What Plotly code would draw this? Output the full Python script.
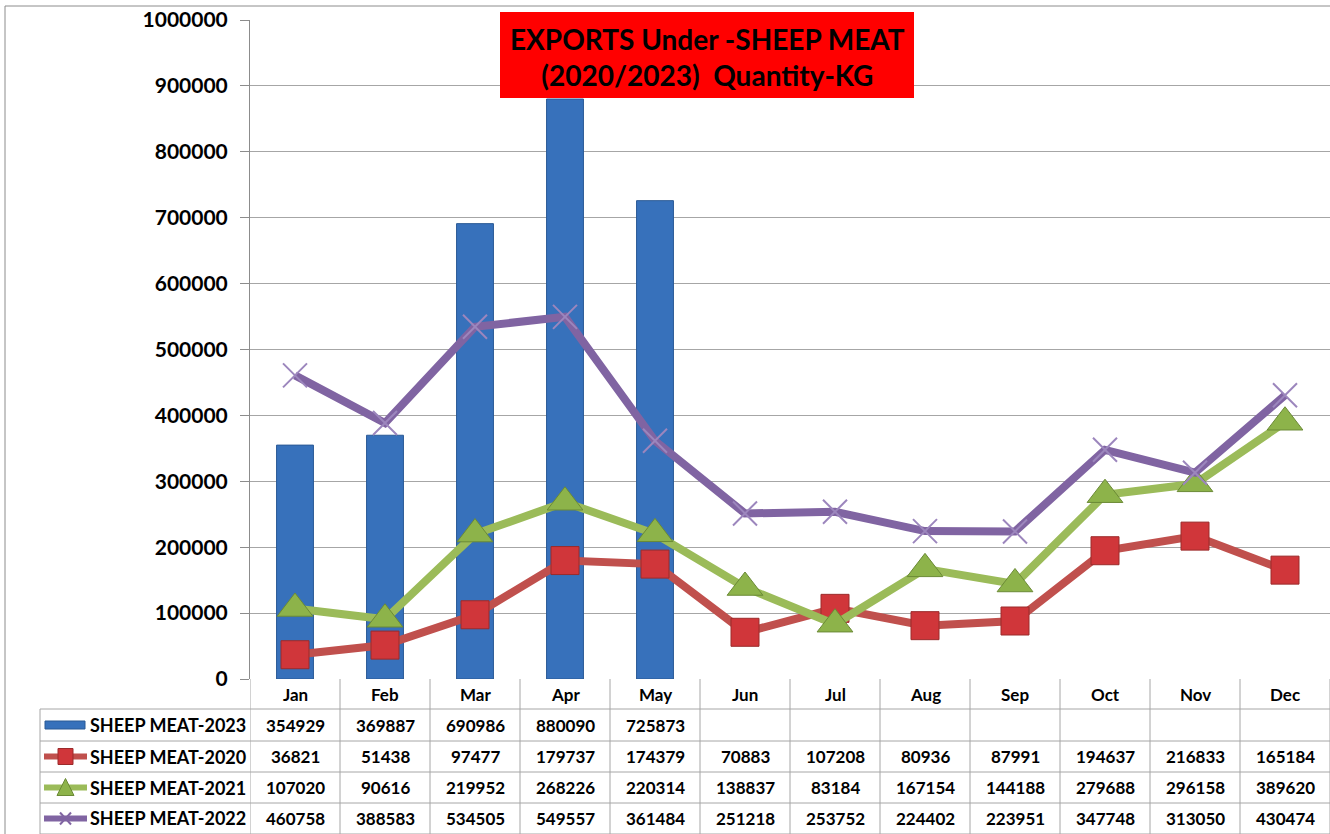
import plotly.graph_objects as go

months = ["Jan", "Feb", "Mar", "Apr", "May", "Jun", "Jul", "Aug", "Sep", "Oct", "Nov", "Dec"]
meat_2023 = [354929, 369887, 690986, 880090, 725873, None, None, None, None, None, None, None]
meat_2020 = [36821, 51438, 97477, 179737, 174379, 70883, 107208, 80936, 87991, 194637, 216833, 165184]
meat_2021 = [107020, 90616, 219952, 268226, 220314, 138837, 83184, 167154, 144188, 279688, 296158, 389620]
meat_2022 = [460758, 388583, 534505, 549557, 361484, 251218, 253752, 224402, 223951, 347748, 313050, 430474]
y_ticks = [0, 100000, 200000, 300000, 400000, 500000, 600000, 700000, 800000, 900000, 1000000]

W, H = 1330, 834
L, R, T, B = 250, 1330, 20, 679
FONT = "Lato"


def px_x(x):
    return (x - L) / (R - L)


def px_y(y):
    return (B - y) / (B - T)


BLUE, RED, GREEN, PURPLE = "#3771bb", "#c0504d", "#9bbb59", "#8064a2"
GRID = "#a6a6a6"

fig = go.Figure()
fig.add_trace(go.Bar(x=months, y=meat_2023, name="SHEEP MEAT-2023", width=0.41,
                     marker=dict(color=BLUE, line=dict(color="#2a5a95", width=1))))
fig.add_trace(go.Scatter(x=months, y=meat_2020, name="SHEEP MEAT-2020", mode="lines+markers",
                         line=dict(color=RED, width=8),
                         marker=dict(symbol="square", size=28, color="#d0363a",
                                     line=dict(color="#9b2b2b", width=1))))
fig.add_trace(go.Scatter(x=months, y=meat_2021, name="SHEEP MEAT-2021", mode="lines+markers",
                         line=dict(color=GREEN, width=8),
                         marker=dict(symbol="triangle-up", size=31, color="#8db34a",
                                     line=dict(color="#6b8a36", width=1))))
fig.add_trace(go.Scatter(x=months, y=meat_2022, name="SHEEP MEAT-2022", mode="lines+markers",
                         line=dict(color=PURPLE, width=8),
                         marker=dict(symbol="x-thin", size=24, color=PURPLE,
                                     line=dict(color="#9c86bd", width=2))))

shapes = []
annotations = []

# outer chart border
shapes.append(dict(type="rect", xref="paper", yref="paper", x0=px_x(5), x1=px_x(1340),
                   y0=px_y(845), y1=px_y(6), line=dict(color="#8c8c8c", width=1)))

# data table grid
row_edges = [679, 709, 741, 772, 803, 834]
for i in range(13):
    shapes.append(dict(type="line", xref="x", yref="paper", x0=i - 0.5, x1=i - 0.5,
                       y0=px_y(679), y1=px_y(840), line=dict(color=GRID, width=1)))
for yy in row_edges[1:]:
    shapes.append(dict(type="line", xref="paper", yref="paper", x0=px_x(40), x1=px_x(1330),
                       y0=px_y(yy), y1=px_y(yy), line=dict(color=GRID, width=1)))
shapes.append(dict(type="line", xref="paper", yref="paper", x0=px_x(40), x1=px_x(40),
                   y0=px_y(709), y1=px_y(840), line=dict(color=GRID, width=1)))

# month header row
for m in months:
    annotations.append(dict(x=m, y=px_y(694), xref="x", yref="paper", text="<b>%s</b>" % m,
                            showarrow=False, yanchor="middle",
                            font=dict(family=FONT, size=17, color="black")))

series = [("SHEEP MEAT-2023", meat_2023), ("SHEEP MEAT-2020", meat_2020),
          ("SHEEP MEAT-2021", meat_2021), ("SHEEP MEAT-2022", meat_2022)]


def key_y(r):
    return (row_edges[r + 1] + row_edges[r + 2]) / 2


for r, (name, vals) in enumerate(series):
    yc = key_y(r)
    annotations.append(dict(x=px_x(88), y=px_y(yc), xref="paper", yref="paper",
                            text="<b>%s</b>" % name, xanchor="left", yanchor="middle",
                            showarrow=False, font=dict(family=FONT, size=18, color="black")))
    for m, v in zip(months, vals):
        if v is None:
            continue
        annotations.append(dict(x=m, y=px_y(yc), xref="x", yref="paper", text="<b>%d</b>" % v,
                                showarrow=False, yanchor="middle",
                                font=dict(family=FONT, size=17, color="black")))

# legend keys in the table
yk = key_y(0)
shapes.append(dict(type="rect", xref="paper", yref="paper", x0=px_x(45), x1=px_x(85),
                   y0=px_y(yk + 4), y1=px_y(yk - 4), fillcolor=BLUE,
                   line=dict(color="#2a5a95", width=1)))
for r, col in [(1, RED), (2, GREEN), (3, PURPLE)]:
    yk = key_y(r)
    shapes.append(dict(type="line", xref="paper", yref="paper", x0=px_x(44), x1=px_x(87),
                       y0=px_y(yk), y1=px_y(yk), line=dict(color=col, width=6)))
yk = key_y(1)
shapes.append(dict(type="rect", xref="paper", yref="paper", x0=px_x(58), x1=px_x(73),
                   y0=px_y(yk + 8), y1=px_y(yk - 8), fillcolor="#d0363a",
                   line=dict(color="#9b2b2b", width=1)))
yk = key_y(2)
shapes.append(dict(type="path", xref="paper", yref="paper",
                   path="M %f,%f L %f,%f L %f,%f Z" % (px_x(57), px_y(yk + 8), px_x(74), px_y(yk + 8),
                                                       px_x(65.5), px_y(yk - 9)),
                   fillcolor="#8db34a", line=dict(color="#6b8a36", width=1)))
yk = key_y(3)
for d in (1, -1):
    shapes.append(dict(type="line", xref="paper", yref="paper", x0=px_x(60), x1=px_x(71),
                       y0=px_y(yk - 6 * d), y1=px_y(yk + 6 * d), line=dict(color=PURPLE, width=2)))

# title box
shapes.append(dict(type="rect", xref="paper", yref="paper", x0=px_x(500), x1=px_x(914),
                   y0=px_y(98), y1=px_y(12), fillcolor="#ff0000", line=dict(width=0), layer="above"))
annotations.append(dict(x=px_x(707), y=px_y(57), xref="paper", yref="paper", showarrow=False,
                        xanchor="center", yanchor="middle",
                        text="<b>EXPORTS Under -SHEEP MEAT<br>(2020/2023)  Quantity-KG</b>",
                        font=dict(family=FONT, size=28, color="black")))

fig.update_layout(
    width=W, height=H,
    margin=dict(l=L, r=W - R, t=T, b=H - B),
    paper_bgcolor="white", plot_bgcolor="white",
    showlegend=False,
    shapes=shapes, annotations=annotations,
    xaxis=dict(type="category", range=[-0.5, 11.5], showticklabels=False, showgrid=False,
               zeroline=False, showline=False, ticks=""),
    yaxis=dict(range=[0, 1000000], tickvals=y_ticks, tickformat="d", showgrid=True,
               gridcolor=GRID, gridwidth=1, zeroline=False, showline=True, linecolor="#8c8c8c",
               ticks="outside", ticklen=9, tickcolor="#8c8c8c", ticklabelstandoff=8,
               tickfont=dict(family=FONT, size=21, color="black", weight="bold")),
)

fig.write_html("out.html", config={"displayModeBar": False},
               post_script="document.body.style.margin='0';document.body.style.overflow='hidden';")
